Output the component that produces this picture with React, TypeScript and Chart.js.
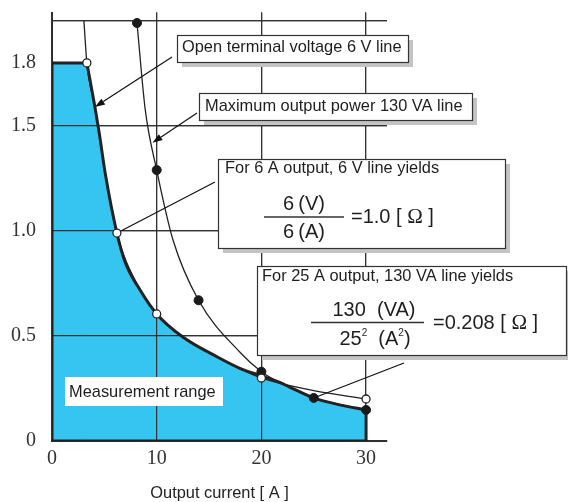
import React, { useEffect, useRef } from 'react';
import { Chart, registerables } from 'chart.js';

Chart.register(...registerables);

// ---- axis ticks ----
const xTicks = [0, 10, 20, 30];
const yTicks = [0, 0.5, 1.0, 1.5, 1.8, 2.0];
const yTickLabels = ['0', '0.5', '1.0', '1.5', '1.8', ''];
const yLabelOnlyTicks = [1.8];
const xAxisTitle = 'Output current [ A ]';

// ---- measurement range (current [A] vs resistance [Ω]) ----
const capCurrent = [0, 3.33];
const capResistance = [1.8, 1.8];
const boundaryCurrent = [3.33, 4.1, 4.5, 5.1, 6.2, 7.0, 8.4, 10, 12.5, 15.8, 18, 20, 21.7, 22.7, 25, 27.5, 30];
const boundaryResistance = [1.8, 1.59, 1.47, 1.27, 0.99, 0.85, 0.72, 0.605, 0.495, 0.4, 0.345, 0.31, 0.28, 0.257, 0.205, 0.172, 0.148];
const edgeCurrent = [0, 0, 30, 30];
const edgeResistance = [1.8, 0, 0, 0.148];

// ---- open terminal voltage 6 V line ----
const openVoltageCurrent = [3.05, 3.33, 4.1, 4.5, 5.1, 6.2, 8.4, 10, 12.5, 15.8, 20, 25, 30];
const openVoltageResistance = [2.0, 1.8, 1.59, 1.47, 1.27, 0.99, 0.72, 0.605, 0.495, 0.4, 0.3, 0.24, 0.2];

// ---- maximum output power 130 VA line ----
const maxPowerCurrent = [8.12, 8.9, 10, 11.56, 14, 18, 20, 21.7, 25, 30];
const maxPowerResistance = [1.99, 1.58, 1.29, 0.957, 0.67, 0.42, 0.33, 0.28, 0.205, 0.148];

// ---- markers ----
const openMarkerCurrent = [3.33, 6.2, 10, 20, 30];
const openMarkerResistance = [1.8, 0.99, 0.605, 0.3, 0.2];
const solidMarkerCurrent = [8.12, 10, 14, 20, 25, 30];
const solidMarkerResistance = [1.99, 1.29, 0.67, 0.33, 0.205, 0.148];

// ---- annotation anchors (data space) ----
const openLineArrowTip = { x: 4.1, y: 1.59 };
const powerLineArrowTip = { x: 9.6, y: 1.42 };

// ---- annotation texts ----
const openLineText = 'Open terminal voltage 6 V line';
const powerLineText = 'Maximum output power 130 VA line';
const example6Title = 'For 6 A output, 6 V line yields';
const example25Title = 'For 25 A output, 130 VA line yields';
const rangeText = 'Measurement range';

const SANS = '"Liberation Sans", Arial, Helvetica, sans-serif';
const SERIF = '"Liberation Serif", "Times New Roman", serif';
const BLUE = '#36C4F0';
const INK = '#1e1e1e';

const pts = (xs: number[], ys: number[]) => xs.map((x, i) => ({ x, y: ys[i] }));

type Seg = { text: string; font: string; dy?: number };

function segWidth(ctx: CanvasRenderingContext2D, segs: Seg[]) {
  let w = 0;
  for (const s of segs) {
    ctx.font = s.font;
    w += ctx.measureText(s.text).width;
  }
  return w;
}

function drawSegs(ctx: CanvasRenderingContext2D, segs: Seg[], x: number, y: number, align: 'left' | 'center') {
  const w = segWidth(ctx, segs);
  let cx = align === 'center' ? x - w / 2 : x;
  ctx.textAlign = 'left';
  ctx.textBaseline = 'alphabetic';
  ctx.fillStyle = INK;
  for (const s of segs) {
    ctx.font = s.font;
    ctx.fillText(s.text, cx, y + (s.dy || 0));
    cx += ctx.measureText(s.text).width;
  }
}

function drawBox(ctx: CanvasRenderingContext2D, x: number, y: number, w: number, h: number) {
  ctx.fillStyle = '#c4c4c4';
  ctx.fillRect(x + 5, y + 5, w, h);
  ctx.fillStyle = '#ffffff';
  ctx.fillRect(x, y, w, h);
  ctx.strokeStyle = '#333';
  ctx.lineWidth = 1.2;
  ctx.strokeRect(x + 0.5, y + 0.5, w, h);
}

function drawLine(ctx: CanvasRenderingContext2D, x1: number, y1: number, x2: number, y2: number, shorten = 0) {
  const dx = x2 - x1, dy = y2 - y1;
  const len = Math.hypot(dx, dy);
  const ex = x2 - (dx / len) * shorten, ey = y2 - (dy / len) * shorten;
  ctx.strokeStyle = '#111';
  ctx.lineWidth = 1.2;
  ctx.beginPath();
  ctx.moveTo(x1, y1);
  ctx.lineTo(ex, ey);
  ctx.stroke();
}

function drawArrow(ctx: CanvasRenderingContext2D, x1: number, y1: number, x2: number, y2: number) {
  const dx = x2 - x1, dy = y2 - y1;
  const len = Math.hypot(dx, dy);
  const ux = dx / len, uy = dy / len;
  const head = 10, half = 3.5;
  const bx = x2 - ux * head, by = y2 - uy * head;
  ctx.strokeStyle = '#111';
  ctx.lineWidth = 1.2;
  ctx.beginPath();
  ctx.moveTo(x1, y1);
  ctx.lineTo(bx, by);
  ctx.stroke();
  ctx.fillStyle = '#111';
  ctx.beginPath();
  ctx.moveTo(x2, y2);
  ctx.lineTo(bx - uy * half, by + ux * half);
  ctx.lineTo(bx + uy * half, by - ux * half);
  ctx.closePath();
  ctx.fill();
}

const annotationPlugin = {
  id: 'resistanceAnnotations',
  afterDatasetDraw(chart: any, args: any) {
    const ds = chart.data.datasets[args.index];
    if (ds && ds.label === 'Measurement range') {
      chart.scales.x.drawGrid(chart.chartArea);
      chart.scales.y.drawGrid(chart.chartArea);
    }
  },
  afterDraw(chart: any) {
    const ctx: CanvasRenderingContext2D = chart.ctx;
    const xs = chart.scales.x, ys = chart.scales.y;
    const px = (v: number) => xs.getPixelForValue(v);
    const py = (v: number) => ys.getPixelForValue(v);
    const sans = (s: number) => `${s}px ${SANS}`;
    const serif = (s: number) => `${s}px ${SERIF}`;
    ctx.save();

    // measurement range label
    ctx.fillStyle = '#fff';
    ctx.fillRect(65, 377, 158, 29);
    drawSegs(ctx, [{ text: rangeText, font: sans(16.4) }], 69, 397, 'left');

    // leader lines
    drawLine(ctx, 215, 182, px(openMarkerCurrent[1]), py(openMarkerResistance[1]), 5);
    drawLine(ctx, 404, 363, px(solidMarkerCurrent[4]), py(solidMarkerResistance[4]), 0);

    // arrows
    drawArrow(ctx, 172, 57, px(openLineArrowTip.x), py(openLineArrowTip.y));
    drawArrow(ctx, 197, 113, px(powerLineArrowTip.x), py(powerLineArrowTip.y));

    // box 1
    drawBox(ctx, 177, 35, 231, 27);
    drawSegs(ctx, [{ text: openLineText, font: sans(16.4) }], 182, 52, 'left');

    // box 2
    drawBox(ctx, 199, 93, 273, 27);
    drawSegs(ctx, [{ text: powerLineText, font: sans(16.4) }], 205, 111, 'left');

    // box 3
    drawBox(ctx, 218, 159, 287, 89);
    drawSegs(ctx, [{ text: example6Title, font: sans(16.4) }], 225, 173, 'left');
    drawSegs(ctx, [{ text: '6\u2009(V)', font: sans(20) }], 304, 210, 'center');
    ctx.strokeStyle = '#333';
    ctx.lineWidth = 1.5;
    ctx.beginPath();
    ctx.moveTo(264, 217);
    ctx.lineTo(344, 217);
    ctx.stroke();
    drawSegs(ctx, [{ text: '6\u2009(A)', font: sans(20) }], 304, 238, 'center');
    drawSegs(ctx, [
      { text: '=1.0 [ ', font: sans(20) },
      { text: '\u03A9', font: serif(21) },
      { text: ' ]', font: sans(20) },
    ], 351, 223, 'left');

    // box 4
    drawBox(ctx, 257, 266, 309, 89);
    drawSegs(ctx, [{ text: example25Title, font: sans(16.4) }], 262, 281, 'left');
    drawSegs(ctx, [{ text: '130  (VA)', font: sans(20) }], 374, 316, 'center');
    ctx.strokeStyle = '#333';
    ctx.lineWidth = 1.5;
    ctx.beginPath();
    ctx.moveTo(311, 322.5);
    ctx.lineTo(424, 322.5);
    ctx.stroke();
    drawSegs(ctx, [
      { text: '25', font: sans(20) },
      { text: '2', font: sans(10), dy: -9 },
      { text: '  (A', font: sans(20) },
      { text: '2', font: sans(10), dy: -9 },
      { text: ')', font: sans(20) },
    ], 375, 345, 'center');
    drawSegs(ctx, [
      { text: '=0.208 [ ', font: sans(20) },
      { text: '\u03A9', font: serif(21) },
      { text: ' ]', font: sans(20) },
    ], 433, 329, 'left');

    ctx.restore();
  },
};

export default function App() {
  const canvasRef = useRef<HTMLCanvasElement | null>(null);

  useEffect(() => {
    const canvas = canvasRef.current;
    if (!canvas) return;
    const thick = 3;
    const capFill = [
      ...pts(capCurrent, capResistance),
      { x: boundaryCurrent[1], y: boundaryResistance[1] },
    ];
    const chart = new Chart(canvas, {
      type: 'line',
      data: {
        datasets: [
          {
            label: 'Measurement range cap',
            data: capFill,
            fill: 'origin',
            backgroundColor: BLUE,
            borderWidth: 0,
            pointRadius: 0,
            tension: 0,
            order: 11,
          },
          {
            label: 'Measurement range',
            data: pts(boundaryCurrent, boundaryResistance),
            fill: 'origin',
            backgroundColor: BLUE,
            borderWidth: 0,
            pointRadius: 0,
            cubicInterpolationMode: 'monotone',
            order: 10,
          },
          {
            label: 'Open terminal voltage 6 V line',
            data: pts(openVoltageCurrent, openVoltageResistance),
            fill: false,
            borderColor: '#222',
            borderWidth: 1.3,
            pointRadius: 0,
            cubicInterpolationMode: 'monotone',
            order: 6,
          },
          {
            label: 'Maximum output power 130 VA line',
            data: pts(maxPowerCurrent, maxPowerResistance),
            fill: false,
            borderColor: '#222',
            borderWidth: 1.3,
            pointRadius: 0,
            cubicInterpolationMode: 'monotone',
            order: 6,
          },
          {
            label: 'Boundary cap',
            data: pts(capCurrent, capResistance),
            fill: false,
            borderColor: '#222',
            borderWidth: thick,
            borderCapStyle: 'square',
            pointRadius: 0,
            tension: 0,
            order: 5,
          },
          {
            label: 'Boundary curve',
            data: pts(boundaryCurrent, boundaryResistance),
            fill: false,
            borderColor: '#222',
            borderWidth: thick,
            pointRadius: 0,
            cubicInterpolationMode: 'monotone',
            order: 5,
          },
          {
            label: 'Boundary edges',
            data: pts(edgeCurrent, edgeResistance),
            fill: false,
            borderColor: '#222',
            borderWidth: thick,
            borderCapStyle: 'square',
            pointRadius: 0,
            tension: 0,
            order: 5,
          },
          {
            label: 'Open markers',
            data: pts(openMarkerCurrent, openMarkerResistance),
            showLine: false,
            pointRadius: 4,
            pointBackgroundColor: '#ffffff',
            pointBorderColor: '#222',
            pointBorderWidth: 1.3,
            order: 1,
          },
          {
            label: 'Solid markers',
            data: pts(solidMarkerCurrent, solidMarkerResistance),
            showLine: false,
            pointRadius: 4.5,
            pointBackgroundColor: '#1a1a1a',
            pointBorderColor: '#1a1a1a',
            pointBorderWidth: 1,
            order: 1,
          },
        ] as any,
      },
      options: {
        animation: false,
        responsive: true,
        maintainAspectRatio: false,
        events: [],
        layout: { padding: { top: 12.5, right: 181, left: 0, bottom: 0 } },
        plugins: {
          legend: { display: false },
          tooltip: { enabled: false },
        },
        scales: {
          x: {
            type: 'linear',
            min: 0,
            max: 32,
            afterBuildTicks: (s: any) => {
              s.ticks = xTicks.map((v) => ({ value: v }));
            },
            afterFit: (s: any) => {
              s.height = 61;
              s.paddingLeft = 0;
              s.paddingRight = 0;
            },
            ticks: {
              autoSkip: false,
              maxRotation: 0,
              padding: 6,
              color: '#333',
              font: { family: SERIF, size: 20 },
              callback: (v: any) => String(v),
            },
            grid: { color: '#333', lineWidth: 1.2, drawTicks: false },
            border: { color: '#2a2a2a', width: 2 },
            title: {
              display: true,
              text: xAxisTitle,
              color: '#222',
              font: { family: SANS, size: 16.4, lineHeight: 1 },
              padding: { top: 0, bottom: 0 },
            },
          },
          y: {
            type: 'linear',
            min: 0,
            max: 2.04,
            afterBuildTicks: (s: any) => {
              s.ticks = yTicks.map((v) => ({ value: v }));
            },
            afterFit: (s: any) => {
              s.width = 52;
              s.paddingTop = 0;
              s.paddingBottom = 0;
            },
            ticks: {
              autoSkip: false,
              padding: 16,
              color: '#333',
              font: { family: SERIF, size: 20 },
              callback: (_v: any, i: number) => yTickLabels[i],
            },
            grid: {
              color: (c: any) => (c.tick && yLabelOnlyTicks.includes(c.tick.value) ? 'rgba(0,0,0,0)' : '#333'),
              lineWidth: 1.2,
              drawTicks: false,
            },
            border: { color: '#2a2a2a', width: 2 },
          },
        },
      } as any,
      plugins: [annotationPlugin],
    });
    return () => chart.destroy();
  }, []);

  return (
    <div style={{ position: 'absolute', left: 0, top: 0, width: 568, height: 502, background: '#fff' }}>
      <canvas ref={canvasRef} />
    </div>
  );
}
